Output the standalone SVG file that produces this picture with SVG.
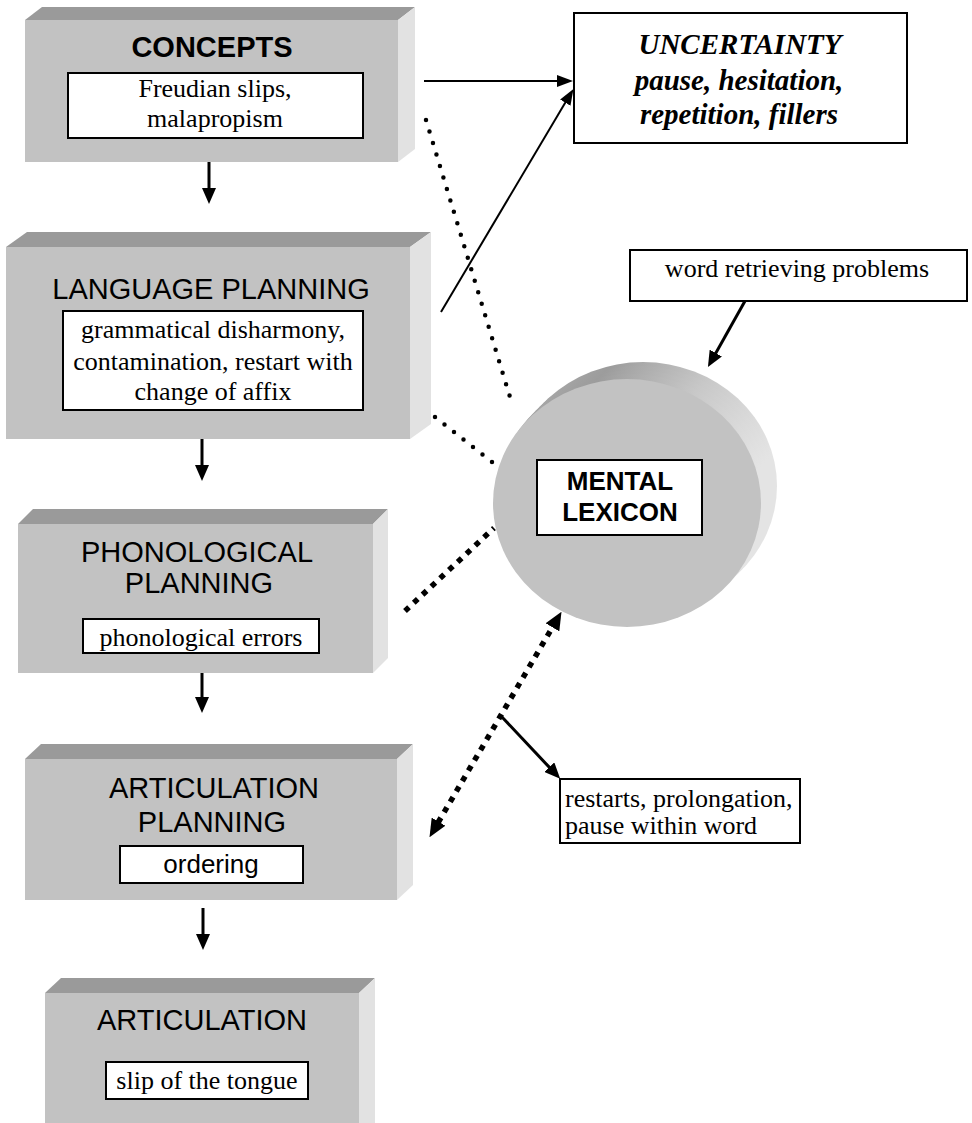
<svg xmlns="http://www.w3.org/2000/svg" width="972" height="1123" viewBox="0 0 972 1123">
<style>
.top{fill:#9a9a9a}
.front{fill:#c2c2c2}
.side{fill:#e2e2e2}
.inner{fill:#fff;stroke:#000;stroke-width:2}
.hd{font-family:"Liberation Sans",Arial,sans-serif;font-size:29px;fill:#000;text-anchor:middle}
.tm{font-family:"Liberation Serif","Times New Roman",serif;font-size:26px;fill:#000;text-anchor:middle}
.ub{font-family:"Liberation Serif","Times New Roman",serif;font-size:29px;font-weight:bold;font-style:italic;fill:#000;text-anchor:middle}
.box{fill:#fff;stroke:#000;stroke-width:2}
.sol{stroke:#000;fill:none}
.rd{stroke:#000;fill:none;stroke-width:4.5;stroke-linecap:round}
.sq{stroke:#000;fill:none;stroke-width:5.5;stroke-dasharray:5.5 6.5}
</style>
<defs>
<marker id="ah" markerUnits="userSpaceOnUse" markerWidth="16" markerHeight="14" refX="1" refY="7" orient="auto-start-reverse" viewBox="0 0 16 14">
<path d="M0,0 L16,7 L0,14 z" fill="#000"/>
</marker>
<marker id="ahs" markerUnits="userSpaceOnUse" markerWidth="16" markerHeight="12" refX="1" refY="6" orient="auto" viewBox="0 0 16 12">
<path d="M0,0 L16,6 L0,12 z" fill="#000"/>
</marker>
<marker id="ahb" markerUnits="userSpaceOnUse" markerWidth="18" markerHeight="16" refX="1" refY="8" orient="auto-start-reverse" viewBox="0 0 18 16">
<path d="M0,0 L18,8 L0,16 z" fill="#000"/>
</marker>
<linearGradient id="rim" x1="0" y1="0" x2="1" y2="0.3">
<stop offset="0" stop-color="#b0b0b0"/>
<stop offset="0.35" stop-color="#9c9c9c"/>
<stop offset="0.7" stop-color="#c8c8c8"/>
<stop offset="1" stop-color="#e4e4e4"/>
</linearGradient>
</defs>

<g id="concepts">
<polygon class="top" points="25,20 42,7 415,7 398,20"/>
<polygon class="side" points="398,20 415,7 415,149 398,162"/>
<rect class="front" x="25" y="20" width="373" height="142"/>
<text class="hd" x="212" y="57" font-weight="bold">CONCEPTS</text>
<rect class="inner" x="68" y="73" width="295" height="65"/>
<text class="tm" x="215" y="97">Freudian slips,</text>
<text class="tm" x="215" y="127">malapropism</text>
</g>

<g id="language-planning">
<polygon class="top" points="6,247 27,232 431,232 410,247"/>
<polygon class="side" points="410,247 431,232 431,424 410,439"/>
<rect class="front" x="6" y="247" width="404" height="192"/>
<text class="hd" x="211" y="299">LANGUAGE PLANNING</text>
<rect class="inner" x="63" y="311" width="300" height="99"/>
<text class="tm" x="213" y="338">grammatical disharmony,</text>
<text class="tm" x="213" y="370">contamination, restart with</text>
<text class="tm" x="213" y="400">change of affix</text>
</g>

<g id="phonological-planning">
<polygon class="top" points="18,524 33,509 388,509 373,524"/>
<polygon class="side" points="373,524 388,509 388,658 373,673"/>
<rect class="front" x="18" y="524" width="355" height="149"/>
<text class="hd" x="197" y="562">PHONOLOGICAL</text>
<text class="hd" x="199" y="593">PLANNING</text>
<rect class="inner" x="83" y="619" width="236" height="34"/>
<text class="tm" x="201" y="646">phonological errors</text>
</g>

<g id="articulation-planning">
<polygon class="top" points="25,759 41,744 413,744 397,759"/>
<polygon class="side" points="397,759 413,744 413,885 397,900"/>
<rect class="front" x="25" y="759" width="372" height="141"/>
<text class="hd" x="214" y="798">ARTICULATION</text>
<text class="hd" x="212" y="832">PLANNING</text>
<rect class="inner" x="120" y="846" width="183" height="37"/>
<text class="hd" x="211" y="873" style="font-size:26px">ordering</text>
</g>

<g id="articulation">
<polygon class="top" points="45,993 61,978 375,978 359,993"/>
<polygon class="side" points="359,993 375,978 375,1123 359,1123"/>
<rect class="front" x="45" y="993" width="314" height="130"/>
<text class="hd" x="202" y="1030">ARTICULATION</text>
<rect class="inner" x="106" y="1062" width="202" height="37"/>
<text class="tm" x="207" y="1089">slip of the tongue</text>
</g>

<g id="uncertainty">
<rect class="box" x="574" y="13" width="333" height="130"/>
<text class="ub" x="740" y="54">UNCERTAINTY</text>
<text class="ub" x="739" y="90">pause, hesitation,</text>
<text class="ub" x="739" y="124">repetition, fillers</text>
</g>

<g id="word-retrieving">
<rect class="box" x="630" y="250" width="337" height="51"/>
<text class="tm" x="797" y="277">word retrieving problems</text>
</g>

<g id="mental-lexicon">
<ellipse cx="643" cy="486" rx="134" ry="124" fill="url(#rim)"/>
<ellipse cx="639" cy="490" rx="134" ry="124" fill="url(#rim)"/>
<ellipse cx="635" cy="494" rx="134" ry="124" fill="url(#rim)"/>
<ellipse cx="631" cy="498" rx="134" ry="124" fill="url(#rim)"/>
<ellipse cx="627" cy="503" rx="134" ry="124" fill="#c2c2c2"/>
<rect class="box" x="537" y="460" width="165" height="75"/>
<text class="hd" x="620" y="490" font-weight="bold" style="font-size:26px">MENTAL</text>
<text class="hd" x="620" y="521" font-weight="bold" style="font-size:26px">LEXICON</text>
</g>

<g id="restarts">
<rect class="box" x="560" y="779" width="240" height="64"/>
<text class="tm" x="565" y="807" text-anchor="start" style="text-anchor:start">restarts, prolongation,</text>
<text class="tm" x="565" y="834" style="text-anchor:start">pause within word</text>
</g>

<g id="connectors">
<line class="sol" stroke-width="3" x1="209" y1="162" x2="209" y2="189" marker-end="url(#ah)"/>
<line class="sol" stroke-width="3" x1="202" y1="439" x2="202" y2="466" marker-end="url(#ah)"/>
<line class="sol" stroke-width="3" x1="202" y1="673" x2="202" y2="698" marker-end="url(#ah)"/>
<line class="sol" stroke-width="3" x1="203" y1="908" x2="203" y2="935" marker-end="url(#ah)"/>
<line class="sol" stroke-width="2" x1="424" y1="81" x2="558" y2="81" marker-end="url(#ahs)"/>
<line class="sol" stroke-width="2" x1="441" y1="312" x2="565.8" y2="101.8" marker-end="url(#ahs)"/>
<line class="sol" stroke-width="3" x1="745" y1="301" x2="715.3" y2="353.9" marker-end="url(#ah)"/>
<line class="sol" stroke-width="3" x1="501" y1="716" x2="549.9" y2="767.9" marker-end="url(#ah)"/>
<line class="rd" x1="426" y1="120" x2="513" y2="407" stroke-dasharray="0 12"/>
<line class="rd" x1="435" y1="417" x2="492" y2="462" stroke-dasharray="0 12.1"/>
<line class="sq" x1="405" y1="611" x2="494" y2="528"/>
<line class="sq" x1="438.1" y1="822.5" x2="552.9" y2="626.5" marker-start="url(#ahb)" marker-end="url(#ahb)"/>
</g>
</svg>
